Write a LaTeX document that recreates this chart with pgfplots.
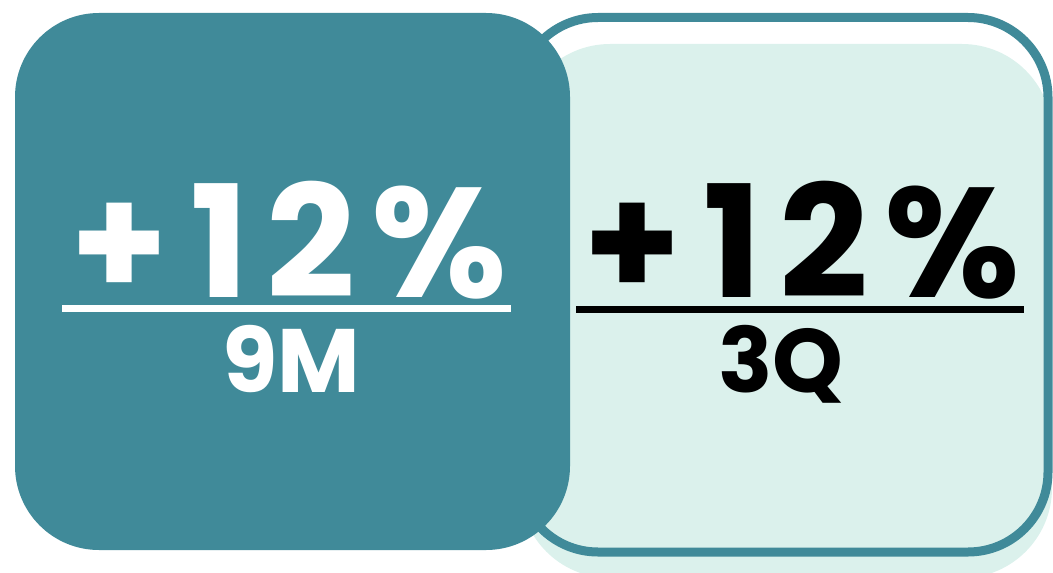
\documentclass[border=0pt]{standalone}
\usepackage{fontspec}
\setmainfont{Poppins}
\usepackage{pgfplots}
\pgfplotsset{compat=1.18}
\definecolor{teal1}{RGB}{64,138,153}
\definecolor{mint}{RGB}{219,241,236}
\newcommand{\bigpct}{+\kern11pt 1\kern9pt 2\kern8pt\%}
\begin{document}
\begin{tikzpicture}
\begin{axis}[
  width=526.5pt, height=286pt, scale only axis,
  xmin=0, xmax=1053, ymin=0, ymax=572, y dir=reverse,
  hide axis, clip=true,
]
\path (axis cs:0,0) rectangle (axis cs:1053,572);
% light fill (right card)
\fill[overlay, mint, rounded corners=45pt] (axis cs:520,44) rectangle (axis cs:1052,578);
% outline (right card)
\draw[overlay, teal1, line width=4.5pt, rounded corners=40pt] (axis cs:518,17.5) rectangle (axis cs:1048,552);
% left card
\fill[teal1, rounded corners=42pt] (axis cs:15,13) rectangle (axis cs:570,550);
% underlines
\fill[white] (axis cs:62,305) rectangle (axis cs:511,312);
\fill[black] (axis cs:576,306) rectangle (axis cs:1024,313);
% texts
\node[anchor=base, inner sep=0pt, text=white, font=\fontsize{78}{78}\selectfont\bfseries] at (axis cs:289,297) {\bigpct};
\node[anchor=base, inner sep=0pt, text=black, font=\fontsize{78}{78}\selectfont\bfseries] at (axis cs:802,297) {\bigpct};
\node[anchor=base, inner sep=0pt, text=white, font=\fontsize{45}{45}\selectfont\bfseries] at (axis cs:291,392) {9M};
\node[anchor=base, inner sep=0pt, text=black, font=\fontsize{45}{45}\selectfont\bfseries] at (axis cs:781,392) {3Q};
\end{axis}
\end{tikzpicture}
\end{document}
